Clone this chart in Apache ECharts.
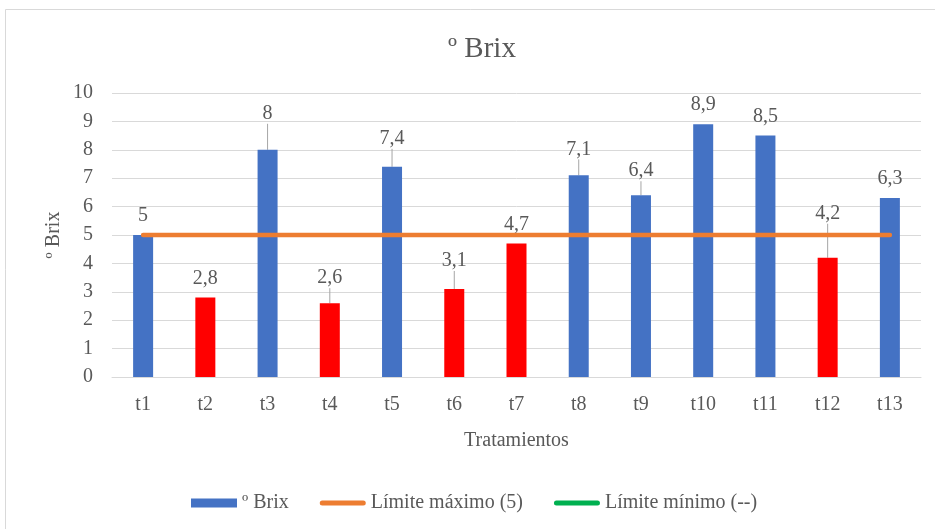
<!DOCTYPE html>
<html>
<head>
<meta charset="utf-8">
<script src="https://cdn.jsdelivr.net/npm/echarts@6/dist/echarts.min.js"></script>
<style>
  html, body { margin: 0; padding: 0; background: #ffffff; }
  #chart { width: 935px; height: 529px; }
</style>
</head>
<body>
<div id="chart"></div>
<script>
// Grados Brix por tratamiento
const tratamientos = ['t1', 't2', 't3', 't4', 't5', 't6', 't7', 't8', 't9', 't10', 't11', 't12', 't13'];
const brix = [5, 2.8, 8, 2.6, 7.4, 3.1, 4.7, 7.1, 6.4, 8.9, 8.5, 4.2, 6.3];
const limiteMaximo = [5, 5, 5, 5, 5, 5, 5, 5, 5, 5, 5, 5, 5];
const limiteMinimo = [];
const yTicks = [0, 1, 2, 3, 4, 5, 6, 7, 8, 9, 10];

// extra vertical lift of some value labels (px), drawn with a leader line
const labelLift = [0, 0, 17, 6, 9, 9, 0, 7, 5, 0, 0, 25, 0];

const FONT = '"Liberation Serif", "Times New Roman", serif';
const TEXT = '#595959';
const LIMITE = 5;
// rounded stroke used as the legend icon of the limit lines
const LINE_ICON = 'path://M2.5,0 H43.5 A2.5,2.5 0 0 1 43.5,5 H2.5 A2.5,2.5 0 0 1 2.5,0 Z';

const chart = echarts.init(document.getElementById('chart'), null, { renderer: 'canvas' });

const barData = brix.map((v, i) => ({
  value: v,
  itemStyle: { color: v < LIMITE ? '#FF0000' : '#4472C4' },
  labelLine: { show: labelLift[i] > 0 }
}));

chart.setOption({
  animation: false,
  backgroundColor: '#ffffff',
  graphic: [{
    type: 'rect',
    shape: { x: 5.5, y: 9.5, width: 1000, height: 1000 },
    style: { fill: 'none', stroke: '#d9d9d9', lineWidth: 1 },
    silent: true
  }],
  title: {
    text: 'º Brix',
    left: 477,
    textAlign: 'center',
    top: 30,
    textStyle: { fontFamily: FONT, fontSize: 29, fontWeight: 'normal', color: TEXT }
  },
  legend: {
    left: 186,
    top: 488,
    itemWidth: 46,
    itemHeight: 9,
    itemGap: 31,
    textStyle: { fontFamily: FONT, fontSize: 20, color: TEXT },
    data: [
      { name: 'º Brix', icon: 'rect', itemStyle: { color: '#4472C4' } },
      { name: 'Límite máximo (5)', icon: LINE_ICON, itemStyle: { color: '#ED7D31' } },
      { name: 'Límite mínimo (--)', icon: LINE_ICON, itemStyle: { color: '#00B050' } }
    ]
  },
  grid: { left: 112, right: 14, top: 93, bottom: 152, containLabel: false },
  xAxis: {
    type: 'category',
    data: tratamientos,
    name: 'Tratamientos',
    nameLocation: 'middle',
    nameGap: 54,
    nameMoveOverlap: false,
    nameTextStyle: { fontFamily: FONT, fontSize: 20, color: TEXT },
    axisLine: { show: true, lineStyle: { color: '#d9d9d9', width: 1 } },
    axisTick: { show: false },
    axisLabel: { fontFamily: FONT, fontSize: 20, color: TEXT, margin: 18 }
  },
  yAxis: {
    type: 'value',
    min: yTicks[0],
    max: yTicks[yTicks.length - 1],
    interval: 1,
    name: 'º Brix',
    nameLocation: 'middle',
    nameGap: 48,
    nameMoveOverlap: false,
    nameRotate: 90,
    nameTextStyle: { fontFamily: FONT, fontSize: 20, color: TEXT },
    axisLine: { show: false },
    axisTick: { show: false },
    axisLabel: { fontFamily: FONT, fontSize: 20, color: TEXT, margin: 19 },
    splitLine: { lineStyle: { color: '#d9d9d9', width: 1 } }
  },
  series: [
    {
      name: 'º Brix',
      type: 'bar',
      barWidth: 20,
      data: barData,
      z: 2,
      label: {
        show: true,
        position: 'top',
        distance: 9,
        fontFamily: FONT,
        fontSize: 20,
        color: TEXT,
        formatter: p => String(p.value).replace('.', ',')
      },
      labelLine: { lineStyle: { color: '#a6a6a6', width: 1 } },
      labelLayout: p => ({ dy: -labelLift[p.dataIndex] })
    },
    {
      name: 'Límite máximo (5)',
      type: 'line',
      data: limiteMaximo,
      symbol: 'none',
      z: 3,
      itemStyle: { color: '#ED7D31' },
      lineStyle: { color: '#ED7D31', width: 4.5, cap: 'round' }
    },
    {
      name: 'Límite mínimo (--)',
      type: 'line',
      data: limiteMinimo,
      symbol: 'none',
      itemStyle: { color: '#00B050' },
      lineStyle: { color: '#00B050', width: 4.5, cap: 'round' }
    }
  ]
});
</script>
</body>
</html>
